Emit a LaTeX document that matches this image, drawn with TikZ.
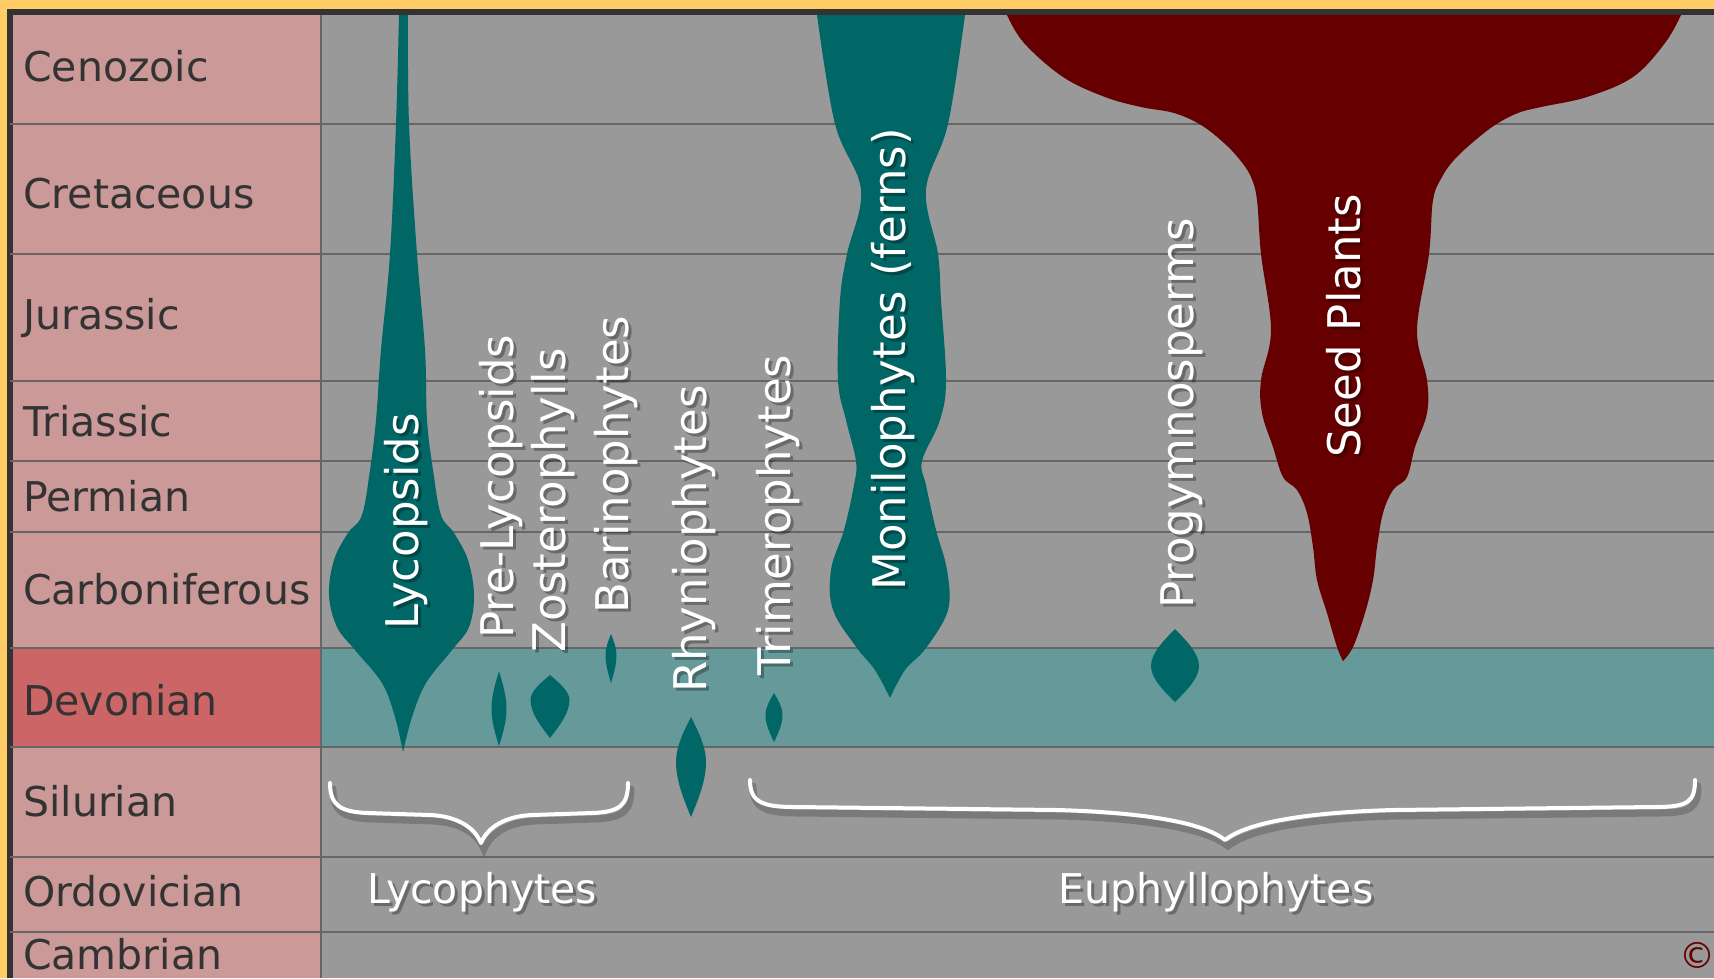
\documentclass[tikz,border=0pt]{standalone}
\usepackage{fontspec}
\setmainfont{DejaVu Sans}
\usepackage{xcolor}
\usepackage{tikz}

\definecolor{periodpink}{HTML}{CC9999}
\definecolor{devonpink}{HTML}{CC6666}
\definecolor{chartgray}{HTML}{999999}
\definecolor{gridgray}{HTML}{666666}
\definecolor{devonteal}{HTML}{669999}
\definecolor{cladeteal}{HTML}{006666}
\definecolor{seedred}{HTML}{660000}
\definecolor{frameorange}{HTML}{FFCC66}
\definecolor{framedark}{HTML}{333333}

\begin{document}
\begin{tikzpicture}[
  x=1pt, y=-1pt,
  period/.style={anchor=west, inner sep=0pt, text height=30pt, text depth=0pt,
    text=framedark, font=\fontsize{41}{41}\selectfont},
  taxon/.style={rotate=90, anchor=west, inner sep=0pt, text height=33pt, text depth=0pt,
    text=white, font=\fontsize{45}{45}\selectfont},
  taxonshadow/.style={taxon, text=black, opacity=0.3},
  group/.style={inner sep=0pt, text height=30pt, text depth=0pt,
    text=white, font=\fontsize{41}{41}\selectfont},
  groupshadow/.style={group, text=black, opacity=0.3},
  brace/.style={draw=white, line width=4pt, line cap=round, line join=round},
  braceshadow/.style={draw=black, opacity=0.2, line width=7pt, line cap=round, shift={(3,6)}},
  rule/.style={draw=gridgray, line width=2.5pt}
]
\useasboundingbox (0,0) rectangle (1714,978);

\fill[frameorange] (0,0) rectangle (1714,978);
\fill[framedark] (7,9) rectangle (1714,978);
\fill[periodpink] (13,15) rectangle (321,978);
\fill[chartgray] (321,15) rectangle (1714,978);
\fill[devonpink] (13,648) rectangle (321,747);
\fill[devonteal] (321,648) rectangle (1714,747);
\foreach \y in {124,254,381,461,532,648,747,857,932}
  \draw[rule] (10,\y) -- (1714,\y);
\draw[rule] (321,15) -- (321,978);

\fill[cladeteal] plot[smooth, tension=0.6] coordinates {(399,15) (396,124) (390,254) (381,350)
    (376,420) (370,470) (362,515) (348,533) (334,560) (329,595) (337,627) (355,650) (382,683)
    (395,717) (403,752)}
  -- plot[smooth, tension=0.6] coordinates {(403,752) (412,717) (426,683) (452,650) (469,627)
    (474,595) (468,560) (454,533) (441,515) (433,470) (427,420) (425,350) (417,254) (409,124)
    (408,15)} -- cycle;

\fill[cladeteal] plot[smooth, tension=0.6] coordinates {(817,15) (835,124) (861,190) (847,254)
    (840,300) (838,380) (846,420) (856,461) (854,485) (844,530) (831,570) (833,610) (857,648)
    (875,670) (890,698)}
  -- plot[smooth, tension=0.6] coordinates {(890,698) (905,670) (926,648) (948,610) (947,570)
    (936,530) (926,485) (922,461) (940,420) (946,380) (941,300) (938,254) (926,190) (948,124)
    (965,15)} -- cycle;

\fill[seedred] plot[smooth, tension=0.6] coordinates {(1007,15) (1024,43) (1063,77) (1105,97)
    (1141,107) (1174,113) (1201,125) (1224,143) (1240,160) (1251,177) (1257,200) (1261,254)
    (1271,330) (1261,380) (1262,413) (1273,447) (1283,477) (1297,490) (1307,513) (1313,547)
    (1317,580) (1327,613) (1337,647) (1343,661)}
  -- plot[smooth, tension=0.6] coordinates {(1343,661) (1353,647) (1365,613) (1373,580)
    (1377,547) (1383,513) (1393,490) (1407,477) (1415,447) (1427,413) (1427,380) (1417,330)
    (1429,254) (1433,200) (1442,177) (1454,160) (1472,143) (1495,125) (1518,113) (1541,107)
    (1587,97) (1633,77) (1665,43) (1681,15)} -- cycle;

\foreach \cx/\top/\mid/\bot/\hw in {499/671/709/746/7.5, 550/675/700/738/19.5,
    611/634/655/683/5.5, 691/717/762/817/15, 774/693/715/742/8.5, 1175/629/666/702/24}
  \fill[cladeteal] (\cx,\top)
    .. controls ({\cx+0.45*\hw},{\top+0.3*(\mid-\top)}) and ({\cx+\hw},{\mid-0.35*(\mid-\top)}) .. ({\cx+\hw},\mid)
    .. controls ({\cx+\hw},{\mid+0.35*(\bot-\mid)}) and ({\cx+0.45*\hw},{\bot-0.3*(\bot-\mid)}) .. (\cx,\bot)
    .. controls ({\cx-0.45*\hw},{\bot-0.3*(\bot-\mid)}) and ({\cx-\hw},{\mid+0.35*(\bot-\mid)}) .. ({\cx-\hw},\mid)
    .. controls ({\cx-\hw},{\mid-0.35*(\mid-\top)}) and ({\cx-0.45*\hw},{\top+0.3*(\mid-\top)}) .. cycle;

\foreach \name/\y in {Cenozoic/66, Cretaceous/193, Jurassic/314, Triassic/421, Permian/496,
    Carboniferous/589, Devonian/700, Silurian/801, Ordovician/891, Cambrian/954}
  \node[period] (\name) at (23,\y) {\name};

\foreach \nm/\x/\y/\txt in {lycopsids/402/630/Lycopsids, prelyco/497/639/Pre-Lycopsids,
    zostero/549/653/Zosterophylls, barino/612/614/Barinophytes, rhynio/690/693/Rhyniophytes,
    trimero/774/676/Trimerophytes, monilo/889/591/{Monilophytes (ferns)},
    progym/1177/609/Progymnosperms, seed/1344/458/{Seed Plants}}
{
  \node[taxonshadow] (\nm-sh) at (\x+3,\y+3) {\txt};
  \node[taxon] (\nm) at (\x,\y) {\txt};
}

\draw[braceshadow] (330,783) .. controls (330,805) and (340,812) .. (368,813) -- (430,815)
  .. controls (455,816) and (474,826) .. (481,843) .. controls (488,826) and (507,816) .. (532,815)
  -- (592,813) .. controls (620,812) and (628,805) .. (628,783);
\draw[brace] (330,783) .. controls (330,805) and (340,812) .. (368,813) -- (430,815)
  .. controls (455,816) and (474,826) .. (481,843) .. controls (488,826) and (507,816) .. (532,815)
  -- (592,813) .. controls (620,812) and (628,805) .. (628,783);
\draw[braceshadow] (750,780) .. controls (750,802) and (762,807) .. (795,807) -- (1057,810)
  .. controls (1130,812) and (1200,820) .. (1225,840) .. controls (1250,820) and (1320,812) .. (1393,810)
  -- (1655,807) .. controls (1688,807) and (1695,802) .. (1695,780);
\draw[brace] (750,780) .. controls (750,802) and (762,807) .. (795,807) -- (1057,810)
  .. controls (1130,812) and (1200,820) .. (1225,840) .. controls (1250,820) and (1320,812) .. (1393,810)
  -- (1655,807) .. controls (1688,807) and (1695,802) .. (1695,780);

\node[groupshadow] (lycophytes-sh) at (485,891) {Lycophytes};
\node[group] (lycophytes) at (482,888) {Lycophytes};
\node[groupshadow] (euphyllo-sh) at (1219,891) {Euphyllophytes};
\node[group] (euphyllo) at (1216,888) {Euphyllophytes};

\node[text=seedred, inner sep=0pt, font=\fontsize{36}{36}\selectfont] (copyright) at (1697,955) {©};
\end{tikzpicture}
\end{document}
